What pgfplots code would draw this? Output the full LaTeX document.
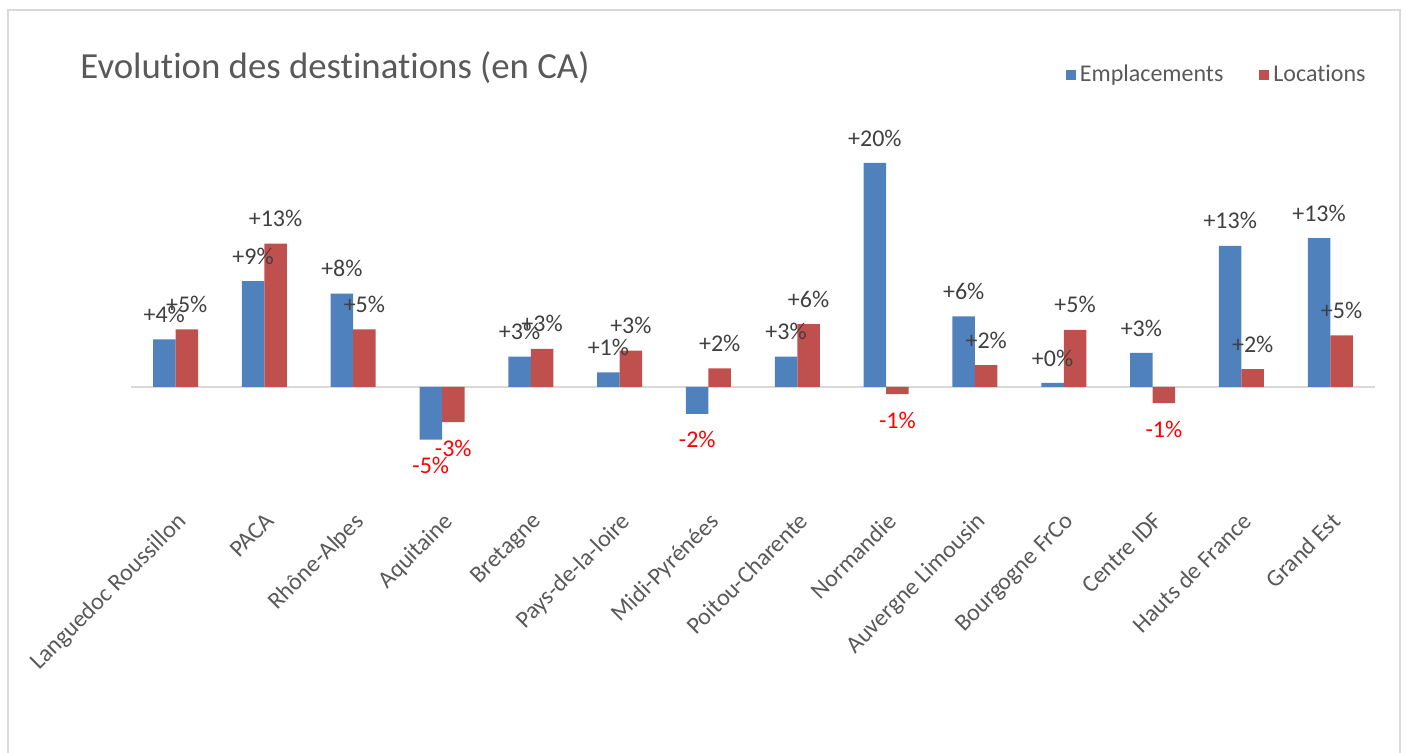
\documentclass[border=0pt]{standalone}
\usepackage{fontspec}
\setmainfont{Carlito}[Ligatures={NoCommon}]
\usepackage{pgfplots}
\pgfplotsset{compat=1.18}
\definecolor{cblue}{HTML}{4F81BD}
\definecolor{cred}{HTML}{C0504D}
\definecolor{txt}{HTML}{595959}
\definecolor{lbl}{HTML}{404040}
\definecolor{framec}{HTML}{D9D9D9}
\begin{document}
\begin{tikzpicture}
\path[use as bounding box] (0,0) rectangle (704pt,376.5pt);
\draw[framec, line width=0.75pt] (4pt,-5pt) -- (4pt,371.5pt) -- (700pt,371.5pt) -- (700pt,-5pt);
\node[anchor=west, text=txt, font=\fontsize{18.4}{22}\selectfont, inner sep=0pt] at (40pt,342.5pt) {Evolution des destinations (en CA)};
\begin{axis}[
  at={(65.55pt,124pt)}, anchor=south west,
  scale only axis, width=621.8pt, height=192.5pt,
  ybar=0pt, bar width=11.25pt,
  xmin=-0.5, xmax=13.5, ymin=-10.54, ymax=23.84,
  axis line style={draw=none},
  ytick=\empty,
  extra y ticks={0}, extra y tick labels={},
  extra y tick style={grid=major, major grid style={framec, line width=0.75pt}},
  xtick={0,...,13},
  xticklabels={Languedoc Roussillon, PACA, Rhône-Alpes, Aquitaine, Bretagne, Pays-de-la-loire, Midi-Pyrénées, Poitou-Charente, Normandie, Auvergne Limousin, Bourgogne FrCo, Centre IDF, Hauts de France, Grand Est},
  major tick length=0pt,
  xticklabel style={rotate=45, anchor=north east, text=txt, font=\fontsize{12}{14}\selectfont, inner sep=2pt},
  visualization depends on={y \as \rawy},
  nodes near coords, point meta=explicit symbolic,
  every node near coord/.append style={font=\fontsize{12}{14}\selectfont, text=lbl, inner sep=0pt, anchor=center,
    yshift={ifthenelse(\rawy<0,-13,12.5)*1pt}},
  legend columns=2,
  legend style={at={(0.9962,1.118)}, anchor=east, draw=none, fill=none, inner sep=0pt,
    font=\fontsize{12}{14}\selectfont, text=txt,
    /tikz/every even column/.append style={column sep=16pt}},
]
\addplot[fill=cblue, draw=none, legend image code/.code={\fill[cblue] (0pt,-2.5pt) rectangle (5pt,2.5pt);}] coordinates {
  (0,4.26) [+4\%]
  (1,9.44) [+9\%]
  (2,8.33) [+8\%]
  (3,-4.7) [\textcolor{red}{-5\%}]
  (4,2.7) [+3\%]
  (5,1.3) [+1\%]
  (6,-2.4) [\textcolor{red}{-2\%}]
  (7,2.7) [+3\%]
  (8,20.0) [+20\%]
  (9,6.3) [+6\%]
  (10,0.36) [+0\%]
  (11,3.04) [+3\%]
  (12,12.6) [+13\%]
  (13,13.3) [+13\%]
};
\addlegendentry{Emplacements}
\addplot[fill=cred, draw=none, legend image code/.code={\fill[cred] (0pt,-2.5pt) rectangle (5pt,2.5pt);}] coordinates {
  (0,5.15) [+5\%]
  (1,12.8) [+13\%]
  (2,5.15) [+5\%]
  (3,-3.15) [\textcolor{red}{-3\%}]
  (4,3.4) [+3\%]
  (5,3.25) [+3\%]
  (6,1.65) [+2\%]
  (7,5.6) [+6\%]
  (8,-0.65) [\textcolor{red}{-1\%}]
  (9,1.96) [+2\%]
  (10,5.1) [+5\%]
  (11,-1.45) [\textcolor{red}{-1\%}]
  (12,1.6) [+2\%]
  (13,4.6) [+5\%]
};
\addlegendentry{Locations}
\end{axis}
\end{tikzpicture}
\end{document}
